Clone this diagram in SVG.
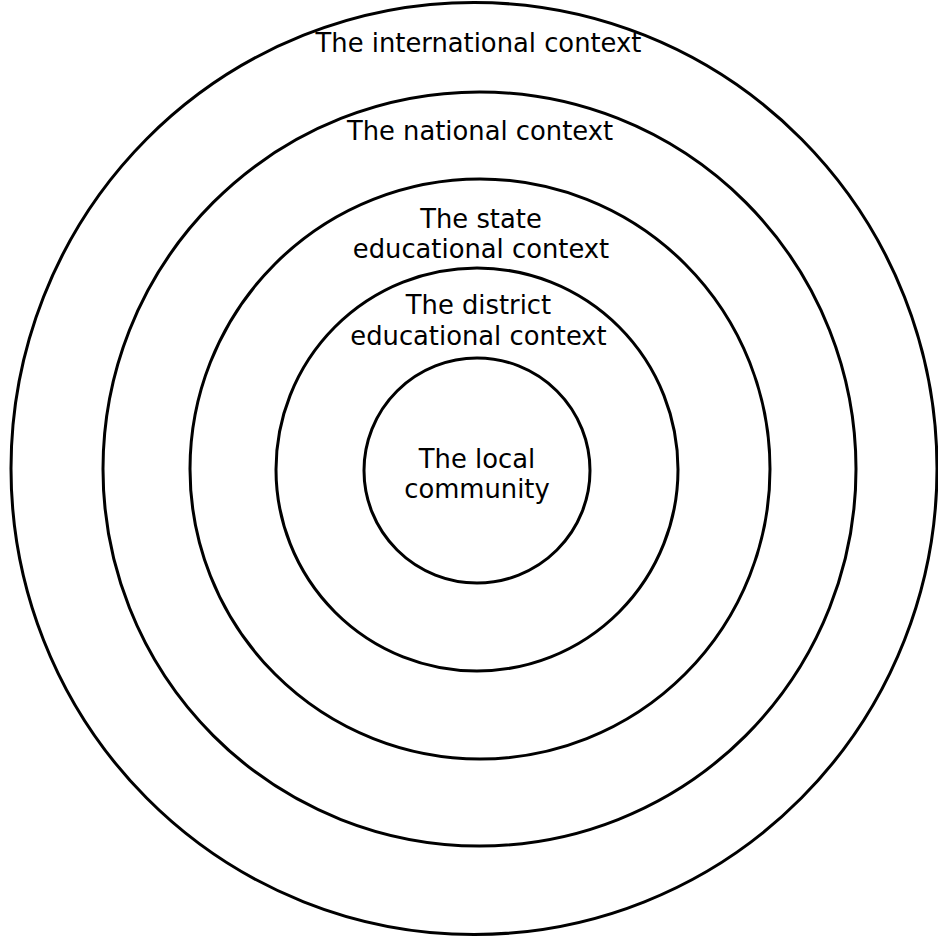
<svg xmlns="http://www.w3.org/2000/svg" width="938" height="940" viewBox="0 0 938 940">
<style>
.ring{fill:none;stroke:#000;stroke-width:3}
.lbl{font-family:"DejaVu Sans","Verdana",sans-serif;font-size:25.8px;fill:#000;text-anchor:middle}
</style>
<rect width="938" height="940" fill="#fff"/>
<g id="international">
<ellipse class="ring" cx="474" cy="468.5" rx="463" ry="466"/>
<text class="lbl" x="478.5" y="52">The international context</text>
</g>
<g id="national">
<ellipse class="ring" cx="479.5" cy="469" rx="376.5" ry="377"/>
<text class="lbl" x="480" y="140">The national context</text>
</g>
<g id="state">
<ellipse class="ring" cx="480" cy="469" rx="290" ry="290"/>
<text class="lbl" x="481" y="228">The state</text>
<text class="lbl" x="481" y="258">educational context</text>
</g>
<g id="district">
<ellipse class="ring" cx="477" cy="469.5" rx="201" ry="201.5"/>
<text class="lbl" x="478.5" y="314">The district</text>
<text class="lbl" x="478.5" y="345">educational context</text>
</g>
<g id="local">
<ellipse class="ring" cx="477" cy="470.5" rx="113" ry="112.5"/>
<text class="lbl" x="477" y="468">The local</text>
<text class="lbl" x="477" y="498">community</text>
</g>
<g id="connectors"></g>
</svg>
